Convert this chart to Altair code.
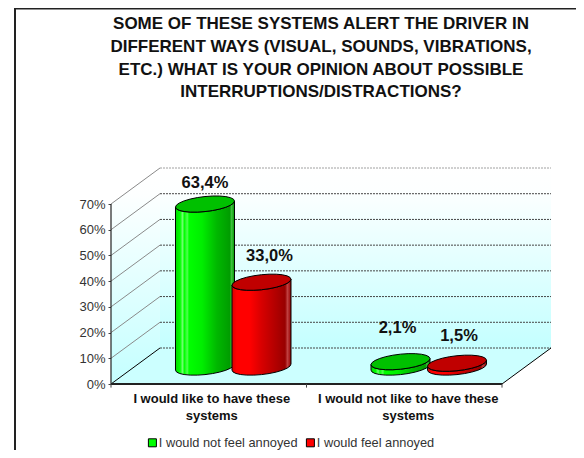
import math
import altair as alt
import pandas as pd

title_lines = [
    "SOME OF THESE SYSTEMS ALERT THE DRIVER IN",
    "DIFFERENT WAYS (VISUAL, SOUNDS, VIBRATIONS,",
    "ETC.) WHAT IS YOUR OPINION ABOUT POSSIBLE",
    "INTERRUPTIONS/DISTRACTIONS?",
]
categories = ["I would like to have these\nsystems", "I would not like to have these\nsystems"]
series = ["I would not feel annoyed", "I would feel annoyed"]
not_annoyed = [63.4, 2.1]
annoyed = [33.0, 1.5]
y_ticks = [0, 10, 20, 30, 40, 50, 60, 70]

FONT = "Liberation Sans"
W, H = 568, 442
PX_X, PX_Y = 195.5, 180 / 70        # px per category, px per percent
FX, FY = 103, 376                   # canvas position of the front-left origin
DEPTH_X, DEPTH_Y = 0.2506, 14.0     # offset of the back wall in data units
Z0, RZ = 0.47, 0.225
RX = 0.1400
SLOT = [0.363, 0.652]

xs = alt.Scale(domain=[-FX / PX_X, (W - FX) / PX_X], range=[0, W], nice=False, zero=False)
ys = alt.Scale(domain=[(FY - H) / PX_Y, FY / PX_Y], range=[H, 0], nice=False, zero=False)
Y_AXIS = alt.Axis(
    values=y_ticks, labelExpr="datum.value + '%'", offset=-FX, domain=False, grid=False,
    tickSize=3, tickColor="#444444", labelFont=FONT, labelFontSize=13,
    labelColor="#333333", labelPadding=3, title=None,
)
X = lambda f="x": alt.X(f"{f}:Q", scale=xs, axis=None)
Y = lambda f="y": alt.Y(f"{f}:Q", scale=ys, axis=Y_AXIS)


def grad(stops, horizontal=True):
    return alt.LinearGradient(
        gradient="linear",
        stops=[alt.GradientStop(offset=o, color=c) for o, c in stops],
        x1=0, y1=0, x2=1 if horizontal else 0, y2=0 if horizontal else 1,
    )


def area(rows, **mark):
    return alt.Chart(pd.DataFrame(rows, columns=["x", "y", "y2"])).mark_area(**mark).encode(
        x=X(), y=Y(), y2="y2:Q"
    )


def seg(x, y, x2, y2, **mark):
    return alt.Chart(pd.DataFrame([dict(x=x, y=y, x2=x2, y2=y2)])).mark_rule(**mark).encode(
        x=X(), y=Y(), x2="x2:Q", y2="y2:Q"
    )


wall = grad([(0, "#ffffff"), (0.12, "#fdffff"), (1, "#c4ffff")], horizontal=False)
layers = []

# walls and floor
layers.append(area([(DEPTH_X, 70 + DEPTH_Y, DEPTH_Y), (2 + DEPTH_X, 70 + DEPTH_Y, DEPTH_Y)], color=wall))
layers.append(area([(0, 70, 0), (DEPTH_X, 70 + DEPTH_Y, DEPTH_Y)], color=wall))
layers.append(area([(0, 0, 0), (DEPTH_X, DEPTH_Y, 0), (2, DEPTH_Y, 0), (2 + DEPTH_X, DEPTH_Y, DEPTH_Y)], color="#ccffff"))

# gridlines
for t in y_ticks:
    col = "#000000" if t == 0 else "#8a8a8a"
    layers.append(seg(0, t, DEPTH_X, t + DEPTH_Y, color=col, strokeWidth=1))
    layers.append(seg(DEPTH_X, t + DEPTH_Y, 2 + DEPTH_X, t + DEPTH_Y,
                      color="#a0a0a0" if t == 70 else "#444444",
                      strokeWidth=1, strokeDash=[2, 1]))
layers.append(seg(2, 0, 2 + DEPTH_X, DEPTH_Y, color="#000000", strokeWidth=1))

# front axes
layers.append(seg(0, 0, 0, 70, color="#222222", strokeWidth=1.2))
layers.append(seg(0, 0, 2, 0, color="#222222", strokeWidth=2))
for i in range(3):
    layers.append(seg(i, 0, i, -1.4, color="#444444", strokeWidth=1))

STYLE = [
    dict(top="#00c000", side=[(0, "#00d800"), (0.08, "#00ff00"), (0.12, "#70ff70"), (0.15, "#00ff00"),
                              (0.2, "#50ff50"), (0.23, "#00ff00"), (0.45, "#00ee00"), (0.7, "#00b800"),
                              (0.92, "#009c00"), (0.95, "#40c040"), (1, "#009c00")]),
    dict(top="#c00000", side=[(0, "#d80000"), (0.08, "#ff0000"), (0.3, "#ff0000"), (0.5, "#d80000"),
                              (0.75, "#b00000"), (0.9, "#980000"), (0.94, "#c04040"), (1, "#980000")]),
]
LABEL_OFF = [[(0, -21), (-3, -33.6)], [(8, -26.5), (2, -27)]]
B = RZ * DEPTH_X
E = math.hypot(RX, B)
PHI = math.atan2(B, RX)
N = 12

labels = []
for s, vals in enumerate([not_annoyed, annoyed]):
    for c, v in enumerate(vals):
        cx = c + SLOT[s] + Z0 * DEPTH_X
        base = Z0 * DEPTH_Y
        us = [math.pi * (1 - k / N) for k in range(N + 1)]
        px = [cx + E * math.cos(u) for u in us]
        front = [DEPTH_Y * RZ * math.sin(PHI - u) for u in us]
        back = [DEPTH_Y * RZ * math.sin(PHI + u) for u in us]
        layers.append(area([(px[k], base + v + front[k], base + front[k]) for k in range(N + 1)],
                           color=grad(STYLE[s]["side"]), stroke="#000000", strokeWidth=1))
        layers.append(area([(px[k], base + v + back[k], base + v + front[k]) for k in range(N + 1)],
                           color=STYLE[s]["top"], stroke="#000000", strokeWidth=1))
        dx, dy = LABEL_OFF[s][c]
        labels.append(
            alt.Chart(pd.DataFrame([dict(x=cx, y=base + v, t=f"{v:.1f}".replace(".", ",") + "%")]))
            .mark_text(font=FONT, fontSize=16.5, fontWeight="bold", color="#111111", dx=dx, dy=dy)
            .encode(x=X(), y=Y(), text="t:N")
        )
layers += labels

# category labels
cat_df = pd.DataFrame({"x": [0.5, 1.5], "y": [-3.6, -3.6], "t": categories, "dx": [3, 4]})
for i in range(2):
    layers.append(
        alt.Chart(cat_df.iloc[[i]]).mark_text(
            font=FONT, fontSize=13, fontWeight="bold", color="#111111", lineBreak="\n",
            lineHeight=17, baseline="top", align="center", dx=int(cat_df.dx[i]),
        ).encode(x=X(), y=Y(), text="t:N")
    )

# legend source
layers.append(
    alt.Chart(pd.DataFrame({"x": [0, 0], "y": [0, 0], "s": series})).mark_square(size=0).encode(
        x=X(), y=Y(),
        color=alt.Color("s:N", scale=alt.Scale(domain=series, range=["#00ff00", "#ff0000"]), legend=alt.Legend(
            title=None, orient="none", legendX=138, legendY=428, direction="horizontal",
            symbolType="square", symbolSize=64, symbolStrokeColor="#000000", symbolStrokeWidth=1,
            symbolOpacity=1, labelFont=FONT, labelFontSize=12.8, labelColor="#333333", labelOffset=0,
            columnPadding=6, padding=0)),
    )
)

# outer frame of the chart area
frame = [
    alt.Chart(pd.DataFrame({"a": [0]})).mark_rule(color="#222222", strokeWidth=2).encode(
        x=alt.value(7), y=alt.value(0), y2=alt.value(H)),
    seg((7 - FX) / PX_X, (FY - 0.5) / PX_Y, (W - FX) / PX_X, (FY - 0.5) / PX_Y, color="#222222", strokeWidth=2),
]

chart = alt.layer(*frame, *layers).resolve_scale(x="shared", y="shared").properties(
    width=W, height=H,
    autosize=alt.AutoSizeParams(type="none"),
    padding=0,
    background="white",
    title=alt.TitleParams(
        text=title_lines, font=FONT, fontSize=17, fontWeight="bold", color="#111111",
        lineHeight=22.7, anchor="middle", orient="top", offset=-94.5, dx=29,
    ),
).configure_view(stroke=None)

chart.save("out.html", embed_options={"renderer": "svg", "actions": False})
